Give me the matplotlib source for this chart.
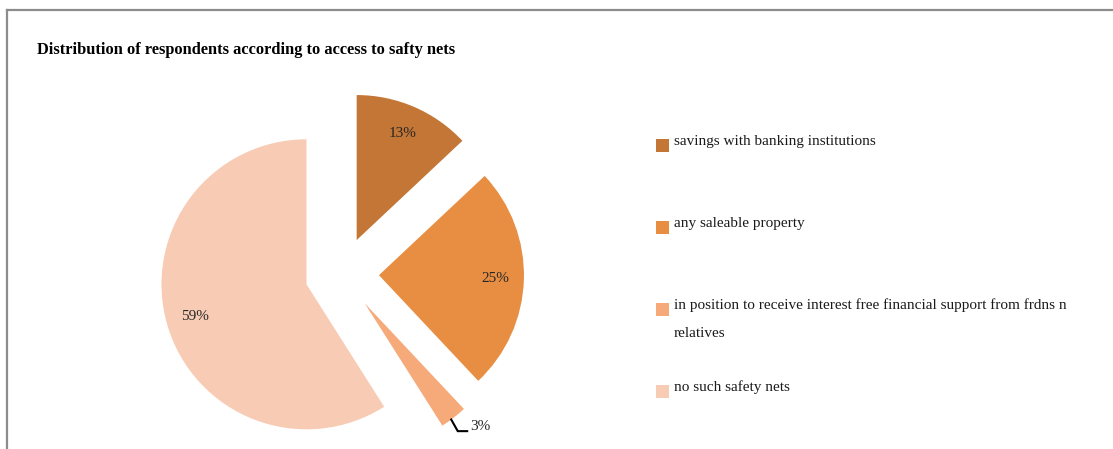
import numpy as np
import matplotlib
matplotlib.use("Agg")
import matplotlib.pyplot as plt
from matplotlib.lines import Line2D
from matplotlib.patches import Rectangle

title = "Distribution of respondents according to access to safty nets"
categories = [
    "savings with banking institutions",
    "any saleable property",
    "in position to receive interest free financial support from frdns n\nrelatives",
    "no such safety nets",
]
shares = [13, 25, 3, 59]
colors = ["#C37635", "#E88E42", "#F6AA7A", "#F8CBB4"]

plt.rcParams['font.family'] = ['Liberation Serif', 'DejaVu Serif']

W, H = 1113, 449
fig = plt.figure(figsize=(W / 100, H / 100), dpi=100)


def fx(px):
    return px / W


def fy(py):
    # pixel rows counted from the top
    return 1 - py / H


# pie axes laid out in pixels: 145 px per unit radius, pie centre at (342, 274)
R = 145.0
cx, cy = 342, 274
left, right, top, bottom = 140, 600, 60, 449
ax = fig.add_axes([fx(left), fy(bottom), fx(right - left), (bottom - top) / H])

wedges, texts, autotexts = ax.pie(
    shares, colors=colors, startangle=90, counterclock=False,
    explode=[0.255] * len(shares),
    autopct=lambda p: f"{p:.0f}%", pctdistance=0.8,
    textprops=dict(fontsize=11, color="#262626"),
)
ax.set_aspect('auto')
ax.set_xlim((left - cx) / R, (right - cx) / R)
ax.set_ylim((cy - bottom) / R, (cy - top) / R)
ax.axis('off')

# the thin slice gets its label outside, with an elbow leader line
small = 2
w = wedges[small]
mid = np.deg2rad((w.theta1 + w.theta2) / 2) - 0.02
x0 = w.center[0] + w.r * np.cos(mid)
y0 = w.center[1] + w.r * np.sin(mid)
x1, y1 = x0 + 0.045, y0 - 0.08
x2 = x1 + 0.065
ax.add_line(Line2D([x0, x1, x2], [y0, y1, y1], color="black", lw=1.5,
                   solid_joinstyle='miter', clip_on=False))
autotexts[small].set_position((x2 + 0.02, y1 + 0.03))
autotexts[small].set_ha('left')
autotexts[small].set_va('center')

# legend drawn by hand so the spacing can follow the plot height
for i, (wd, lab) in enumerate(zip(wedges, categories)):
    sq_top = 139 + i * 82
    fig.patches.append(Rectangle((fx(656), fy(sq_top + 13)), fx(13), 13 / H,
                                 transform=fig.transFigure,
                                 facecolor=wd.get_facecolor(), edgecolor='none'))
    for j, line in enumerate(lab.split("\n")):
        fig.text(fx(674), fy(sq_top + 6 + j * 28), line, fontsize=11,
                 color="#1a1a1a", va='baseline', ha='left')

fig.text(fx(37), fy(54), title, fontsize=11.8, fontweight='bold',
         color="black", va='baseline', ha='left')

# chart frame, only the top and left edges fall inside the image
frame = "#8C8C8C"
fig.add_artist(Line2D([fx(7), 1.0], [fy(10), fy(10)], color=frame, lw=1.6,
                      transform=fig.transFigure))
fig.add_artist(Line2D([fx(7), fx(7)], [fy(10), 0.0], color=frame, lw=1.6,
                      transform=fig.transFigure))

fig.savefig("out.png", dpi=100)
